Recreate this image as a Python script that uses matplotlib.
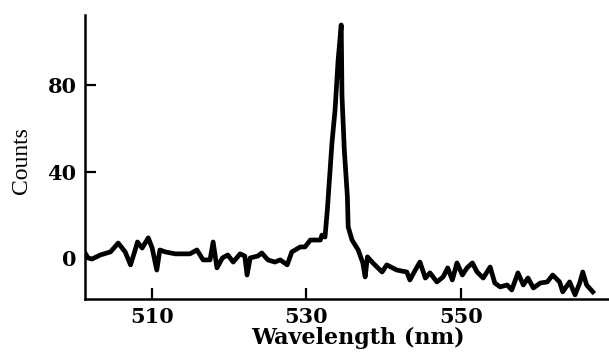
import numpy as np
import matplotlib
matplotlib.use("Agg")
import matplotlib.pyplot as plt

# spectrum (wavelength in nm, counts)
wavelength = [501.3, 501.7, 502.2, 503.3, 504.6, 505.6, 506.5, 507.2, 507.8, 508.1,
              508.7, 509.5, 510.0, 510.6, 511.0, 511.7, 513.0, 514.9, 515.8, 516.6,
              517.5, 517.9, 518.4, 519.1, 519.8, 520.5, 521.4, 522.0, 522.3, 522.7,
              523.7, 524.2, 525.0, 525.9, 526.6, 527.5, 528.1, 529.2, 529.8, 530.5,
              531.1, 531.8, 532.0, 532.4, 532.7, 533.3, 533.7, 534.1, 534.5, 534.6,
              534.9, 535.3, 535.4, 535.9, 536.7, 537.3, 537.6, 537.9, 538.6, 539.8,
              540.4, 541.7, 543.0, 543.4, 544.1, 544.7, 545.4, 546.0, 546.9, 547.7,
              548.3, 548.9, 549.5, 550.2, 550.8, 551.5, 552.1, 552.9, 553.8, 554.4,
              555.1, 556.0, 556.6, 557.4, 558.1, 558.7, 559.4, 560.3, 561.2, 561.9,
              562.8, 563.2, 564.1, 564.8, 565.4, 565.8, 566.3, 567.1]
counts = [2.3, 0.0, -0.5, 1.4, 2.8, 6.9, 2.8, -3.2, 3.7, 7.4,
          4.6, 9.3, 4.6, -5.6, 3.7, 2.8, 1.9, 1.9, 3.7, -0.9,
          -0.9, 7.4, -4.6, 0.0, 1.4, -1.9, 1.9, 0.9, -7.9, 0.0,
          0.9, 2.3, -0.9, -1.9, -0.9, -3.2, 2.8, 5.1, 5.1, 8.3,
          8.3, 8.3, 10.6, 9.7, 22.2, 53.2, 68.5, 91.7, 107.9, 75.0,
          50.0, 28.2, 14.4, 8.3, 3.7, -2.3, -8.8, 0.5, -2.3, -6.5,
          -3.2, -5.6, -6.5, -10.2, -5.6, -1.9, -9.3, -6.9, -11.1, -8.8,
          -4.6, -10.2, -2.3, -7.9, -4.6, -2.3, -6.5, -9.3, -4.2, -11.6,
          -13.4, -12.5, -14.8, -6.9, -12.5, -9.3, -13.9, -11.6, -11.1, -7.9,
          -11.1, -15.7, -11.1, -17.1, -11.6, -6.5, -12.5, -15.7]

xticks = [510, 530, 550]
yticks = [0, 40, 80]

fig = plt.figure(figsize=(6.09, 3.52), dpi=100)
ax = fig.add_axes([0.1396, 0.1506, 0.8604, 0.8068])
ax.plot(wavelength, counts, color="k", lw=3.4, solid_joinstyle="round")

ax.set_xlim(501.3, 569.2)
ax.set_ylim(-19, 112.5)
for s in ["top", "right"]:
    ax.spines[s].set_visible(False)
for s in ["left", "bottom"]:
    ax.spines[s].set_linewidth(1.8)

ax.set_xticks(xticks)
ax.set_yticks(yticks)
ax.tick_params(direction="in", length=8, width=1.6, pad=6)
for lab in ax.get_xticklabels() + ax.get_yticklabels():
    lab.set_fontfamily("DejaVu Serif")
    lab.set_fontweight("bold")
    lab.set_fontsize(15)

fig.text(0.588, 0.04, "Wavelength (nm)", ha="center", va="center",
         family="DejaVu Serif", weight="bold", fontsize=16)
fig.text(0.036, 0.545, "Counts", ha="center", va="center", rotation=90,
         family="Liberation Serif", fontsize=17)

fig.savefig("out.png", dpi=100)
